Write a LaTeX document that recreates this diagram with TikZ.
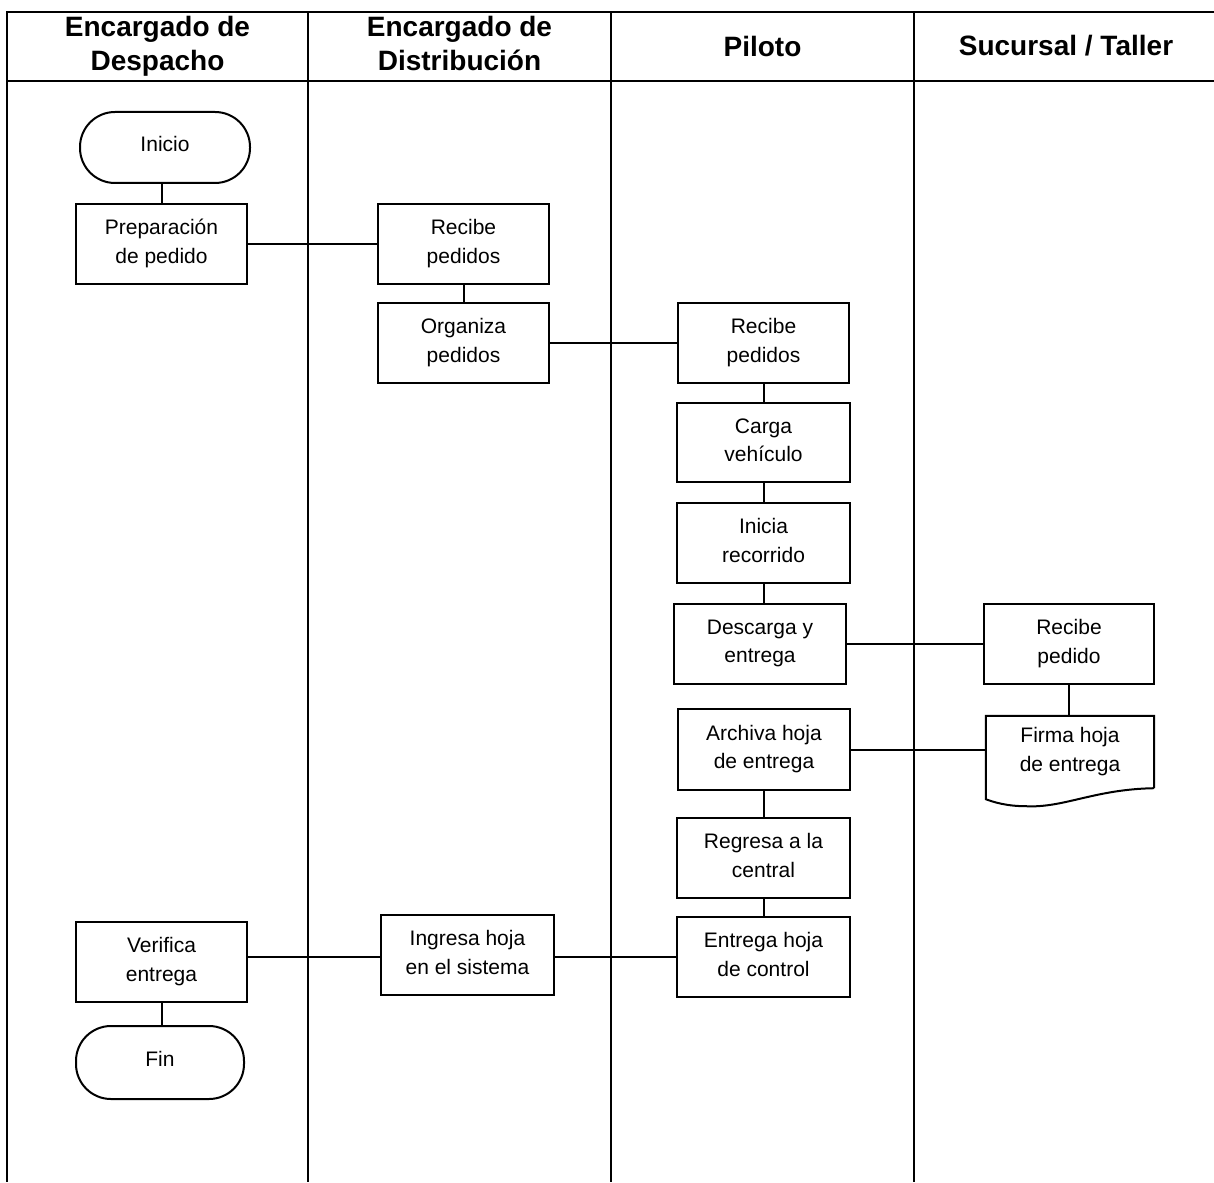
\documentclass[tikz,border=0pt]{standalone}
\usepackage{fontspec}
\setmainfont{Liberation Sans}
\begin{document}
\begin{tikzpicture}[x=1pt,y=-1pt,
  frame/.style={line width=2.7pt},
  link/.style={line width=2pt},
  lanehead/.style={font=\fontsize{28}{34}\selectfont\bfseries, align=center, inner sep=0pt},
  twoline/.style={text depth=6pt},
  proc/.style={draw, line width=2pt, minimum width=172pt, minimum height=80pt,
    inner sep=0pt, align=center, text depth=5pt, font=\fontsize{21}{28.5}\selectfont},
  term/.style={draw, line width=2pt, rounded corners=35pt, inner sep=0pt,
    minimum width=170pt, minimum height=71pt, text depth=8pt,
    font=\fontsize{21}{28.5}\selectfont},
  docbox/.style={minimum width=168pt, minimum height=72pt, inner sep=0pt,
    align=center, text depth=5pt, font=\fontsize{21}{28.5}\selectfont}]
\useasboundingbox (0,0) rectangle (1214,1182);

% swimlane frame
\draw[frame] (1214,12) -- (7,12) -- (7,1182);
\draw[frame] (7,81) -- (1214,81);
\draw[frame] (308,12) -- (308,1182);
\draw[frame] (611,12) -- (611,1182);
\draw[frame] (914,12) -- (914,1182);

% lane titles
\node[lanehead, twoline] (h1) at (157.5,46) {Encargado de\\Despacho};
\node[lanehead, twoline] (h2) at (459.5,46) {Encargado de\\Distribución};
\node[lanehead] (h3) at (762.5,46) {Piloto};
\node[lanehead] (h4) at (1066,46) {Sucursal / Taller};

% Encargado de Despacho
\node[term] (ini) at (165,147.5) {Inicio};
\node[proc, minimum width=171pt] (prep) at (161.5,244) {Preparación\\de pedido};
\node[proc, minimum width=171pt] (verif) at (161.5,962) {Verifica\\entrega};
\node[term, minimum width=168pt, minimum height=73pt] (fin) at (160,1062.5) {Fin};

% Encargado de Distribucion
\node[proc, minimum width=171pt] (rec1) at (463.5,244) {Recibe\\pedidos};
\node[proc, minimum width=171pt] (org) at (463.5,343) {Organiza\\pedidos};
\node[proc, minimum width=173pt] (ingr) at (467.5,955) {Ingresa hoja\\en el sistema};

% Piloto
\node[proc, minimum width=171pt] (rec2) at (763.5,343) {Recibe\\pedidos};
\node[proc, minimum width=173pt, minimum height=79pt] (carga) at (763.5,442.5) {Carga\\vehículo};
\node[proc, minimum width=173pt] (inicia) at (763.5,543) {Inicia\\recorrido};
\node[proc, minimum width=172pt] (desc) at (760,644) {Descarga y\\entrega};
\node[proc, minimum width=172pt, minimum height=81pt] (arch) at (764,749.5) {Archiva hoja\\de entrega};
\node[proc, minimum width=173pt] (regr) at (763.5,858) {Regresa a la\\central};
\node[proc, minimum width=173pt] (entr) at (763.5,957) {Entrega hoja\\de control};

% Sucursal / Taller
\node[proc, minimum width=170pt] (recp) at (1069,644) {Recibe\\pedido};
\node[docbox] (firma) at (1070,752) {Firma hoja\\de entrega};
\draw[link] (firma.south east) -- (firma.north east) -- (firma.north west)
  -- ([yshift=-11pt]firma.south west)
  .. controls ([xshift=8pt,yshift=-14pt]firma.south west)
  and ([xshift=21pt,yshift=-18pt]firma.south west) .. ([xshift=40pt,yshift=-18pt]firma.south west)
  .. controls ([xshift=78pt,yshift=-20pt]firma.south west)
  and ([xshift=-60pt,yshift=-1pt]firma.south east) .. (firma.south east);

% connectors
\draw[link] (prep.north) -- (prep.north |- ini.south);
\draw[link] (prep.east) -- (prep.east -| rec1.west);
\draw[link] (rec1.south) -- (org.north);
\draw[link] (org.east) -- (org.east -| rec2.west);
\draw[link] (rec2.south) -- (carga.north);
\draw[link] (carga.south) -- (inicia.north);
\draw[link] (inicia.south) -- (inicia.south |- desc.north);
\draw[link] (desc.east) -- (desc.east -| recp.west);
\draw[link] (recp.south) -- (recp.south |- firma.north);
\draw[link] (arch.east) -- (arch.east -| firma.west);
\draw[link] (arch.south) -- (arch.south |- regr.north);
\draw[link] (regr.south) -- (entr.north);
\draw[link] (entr.west) -- (entr.west -| ingr.east);
\draw[link] (ingr.west |- entr.west) -- (verif.east |- entr.west);
\draw[link] (verif.south) -- (verif.south |- fin.north);
\end{tikzpicture}
\end{document}
